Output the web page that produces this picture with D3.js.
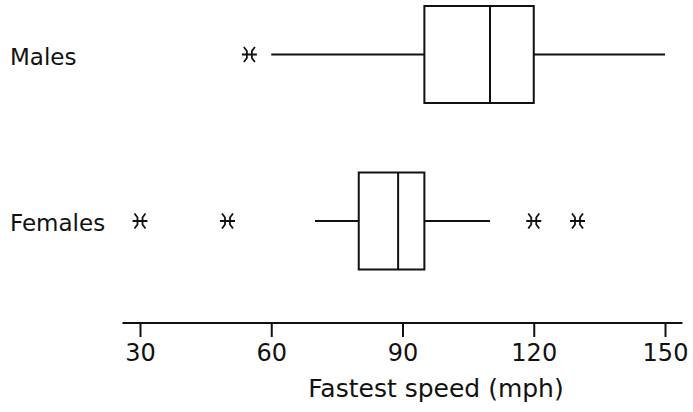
<!DOCTYPE html>
<html>
<head>
<meta charset="utf-8">
<script src="https://cdn.jsdelivr.net/npm/d3@7"></script>
<style>
  html, body { margin: 0; padding: 0; background: #fff; }
  svg { display: block; }
  text { font-family: "DejaVu Sans", Verdana, sans-serif; fill: #111; }
</style>
</head>
<body>
<svg id="chart" width="693" height="412"></svg>
<script>
// ---- data ----
const groups = ["Males", "Females"];
const q1 = [95, 80];
const medians = [110, 89];
const q3 = [120, 95];
const whiskerLow = [60, 70];
const whiskerHigh = [150, 110];
const outliers = [[55], [30, 50, 120, 130]];
const tickValues = [30, 60, 90, 120, 150];
const axisExtent = [26, 154];
const axisTitle = "Fastest speed (mph)";

// ---- layout ----
const svg = d3.select("#chart");
const x = d3.scaleLinear().domain([30, 150]).range([140, 665]);
const y = d3.scalePoint().domain(groups).range([54.5, 221]);
const halfBox = 48.5;
const axisY = 323;
const ink = "#111";
const font = "'DejaVu Sans', Verdana, sans-serif";

const data = groups.map((g, i) => ({
  g, q1: q1[i], med: medians[i], q3: q3[i],
  lo: whiskerLow[i], hi: whiskerHigh[i], out: outliers[i]
}));

const gBox = svg.append("g").attr("stroke", ink).attr("stroke-width", 2).attr("fill", "none");

data.forEach(d => {
  const cy = y(d.g);
  gBox.append("line").attr("x1", x(d.lo)).attr("x2", x(d.q1)).attr("y1", cy).attr("y2", cy);
  gBox.append("line").attr("x1", x(d.q3)).attr("x2", x(d.hi)).attr("y1", cy).attr("y2", cy);
  gBox.append("rect")
    .attr("x", x(d.q1)).attr("y", cy - halfBox)
    .attr("width", x(d.q3) - x(d.q1)).attr("height", 2 * halfBox);
  gBox.append("line").attr("x1", x(d.med)).attr("x2", x(d.med))
    .attr("y1", cy - halfBox).attr("y2", cy + halfBox);
  d.out.forEach(v => {
    gBox.append("path")
      .attr("transform", `translate(${x(v)},${cy})`)
      .attr("stroke-width", 1.8)
      .attr("d", "M-7.5,0H7.5 M-5.5,-7.5L-2.5,-3.5V3.5L-5.5,7.5 M5.5,-7.5L2.5,-3.5V3.5L5.5,7.5");
  });
  svg.append("text")
    .attr("x", 10).attr("y", cy + 10)
    .attr("font-size", 23)
    .text(d.g);
});

// ---- axis ----
const axis = d3.axisBottom(x).tickValues(tickValues).tickSize(14).tickSizeOuter(0);
const gAxis = svg.append("g").attr("transform", `translate(0,${axisY})`).call(axis);
gAxis.select(".domain").remove();
gAxis.append("line")
  .attr("x1", x(axisExtent[0])).attr("x2", x(axisExtent[1]))
  .attr("stroke", ink).attr("stroke-width", 2);
gAxis.selectAll(".tick line").attr("stroke", ink).attr("stroke-width", 2);
gAxis.selectAll(".tick text")
  .attr("font-family", font)
  .attr("font-size", 24).attr("fill", ink)
  .attr("y", 38).attr("dy", 0);

svg.append("text")
  .attr("x", 436)
  .attr("y", 397)
  .attr("text-anchor", "middle")
  .attr("font-size", 25)
  .text(axisTitle);
</script>
</body>
</html>
